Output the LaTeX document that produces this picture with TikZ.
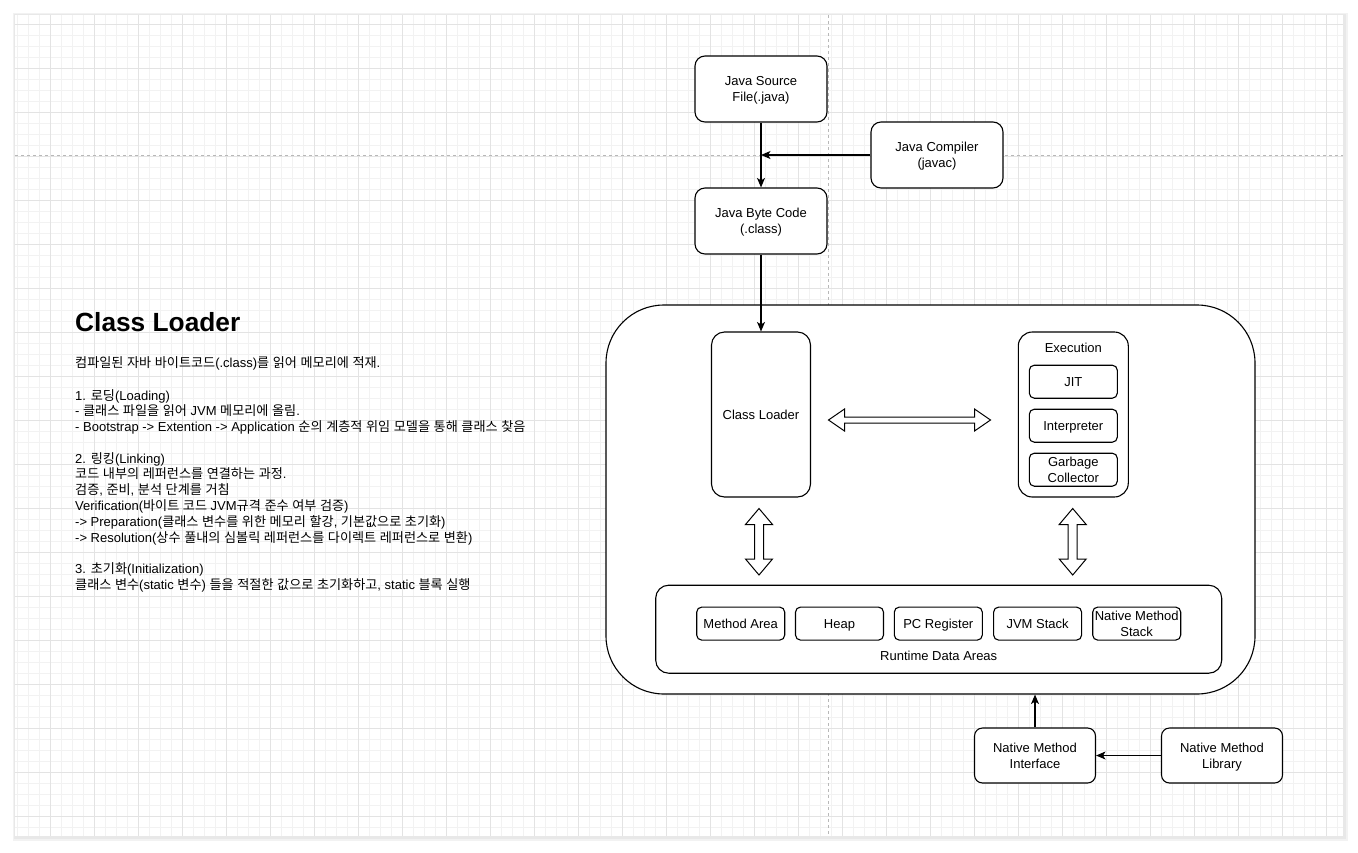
\documentclass[tikz,border=0pt]{standalone}
\usepackage{fontspec}
\setmainfont{Liberation Sans}
\newfontfamily\latfont{Liberation Sans}
\newfontfamily\krfont[Scale=1.01]{Noto Sans CJK KR}
\usetikzlibrary{arrows.meta,calc}

\newXeTeXintercharclass\krclass
\makeatletter
\count@="AC00
\loop
  \XeTeXcharclass\count@=\krclass
  \ifnum\count@<"D7A3 \advance\count@\@ne
\repeat
\makeatother
\XeTeXinterchartoks 0 \krclass = {\krfont}
\XeTeXinterchartoks 4095 \krclass = {\krfont}
\XeTeXinterchartoks \krclass 0 = {\latfont}
\XeTeXinterchartoks \krclass 4095 = {\latfont}
\XeTeXinterchartokenstate=1

\newcommand\sst{\vrule width 0pt height 12pt depth 2.9pt\relax}
\newcommand\dblH[3]{\draw[dbl] (#1,#3) -- ({#1+16},{#3-11}) -- ({#1+16},{#3-3}) -- ({#2-16},{#3-3}) -- ({#2-16},{#3-11}) -- (#2,#3) -- ({#2-16},{#3+11}) -- ({#2-16},{#3+3}) -- ({#1+16},{#3+3}) -- ({#1+16},{#3+11}) -- cycle;}
\newcommand\dblV[3]{\draw[dbl] (#1,#2) -- ({#1+13.5},{#2+16}) -- ({#1+4.5},{#2+16}) -- ({#1+4.5},{#3-16}) -- ({#1+13.5},{#3-16}) -- (#1,#3) -- ({#1-13.5},{#3-16}) -- ({#1-4.5},{#3-16}) -- ({#1-4.5},{#2+16}) -- ({#1-13.5},{#2+16}) -- cycle;}

\tikzset{
  box/.style={draw, line width=1.1pt, fill=white, align=center, inner sep=0pt,
    font=\fontsize{13}{16}\selectfont},
  lbl/.style={inner sep=0pt, font=\fontsize{13}{16}\selectfont},
  conn/.style={line width=1.1pt, -{Stealth[length=9.5pt,width=8pt,inset=2.5pt]}},
  dbl/.style={draw, line width=1pt, fill=white, line join=miter},
  body/.style={anchor=base west, inner sep=0pt, font=\fontsize{13}{15.8}\selectfont},
  minorgrid/.style={black!5, line width=0.8pt},
  majorgrid/.style={black!11, line width=0.9pt},
  pagebreak/.style={black!28, line width=0.8pt, dash pattern=on 3pt off 3pt},
}

\begin{document}
\begin{tikzpicture}[x=1pt,y=-1pt]
\useasboundingbox (0,0) rectangle (1358,852);
\fill[white] (0,0) rectangle (1358,852);
% page with shadow
\fill[black!5] (13,13) rectangle (1348,841);
\fill[black!9] (14,14) rectangle (1346,839);
\fill[white] (15,15) rectangle (1343,836);
\begin{scope}
  \clip (15,15) rectangle (1343,836);
  \foreach \i in {0,...,122} \draw[minorgrid] ({6+11*\i},15) -- ({6+11*\i},836);
  \foreach \i in {0,...,75} \draw[minorgrid] (15,{13+11*\i}) -- (1343,{13+11*\i});
  \foreach \i in {0,...,30} \draw[majorgrid] ({6+44*\i},15) -- ({6+44*\i},836);
  \foreach \i in {0,...,19} \draw[majorgrid] (15,{24+44*\i}) -- (1343,{24+44*\i});
\end{scope}
\draw[pagebreak] (828,15) -- (828,836);
\draw[pagebreak] (15,155) -- (1343,155);

% left text
\node[anchor=base west, inner sep=0pt, font=\fontsize{26.3}{31}\selectfont\bfseries] (title) at (75,331) {Class Loader};
\node[body] (t1) at (75,367) {컴파일된 자바 바이트코드(.class)를 읽어 메모리에 적재.};
\node[body] (t3) at (75,400) {1. 로딩(Loading)};
\node[body] (t4) at (75,415.8) {- 클래스 파일을 읽어 JVM 메모리에 올림.};
\node[body] (t5) at (75,431.6) {- Bootstrap -> Extention -> Application 순의 계층적 위임 모델을 통해 클래스 찾음};
\node[body] (t7) at (75,463) {2. 링킹(Linking)};
\node[body] (t8) at (75,478.8) {코드 내부의 레퍼런스를 연결하는 과정.};
\node[body] (t9) at (75,494.6) {검증, 준비, 분석 단계를 거침};
\node[body] (t10) at (75,510.5) {Verification(바이트 코드 JVM규격 준수 여부 검증)};
\node[body] (t11) at (75,526.3) {-> Preparation(클래스 변수를 위한 메모리 할강, 기본값으로 초기화)};
\node[body] (t12) at (75,542.1) {-> Resolution(상수 풀내의 심볼릭 레퍼런스를 다이렉트 레퍼런스로 변환)};
\node[body] (t14) at (75,573.8) {3. 초기화(Initialization)};
\node[body] (t15) at (75,589.6) {클래스 변수(static 변수) 들을 적절한 값으로 초기화하고, static 블록 실행};

% top boxes
\node[box, minimum width=132pt, minimum height=66pt, rounded corners=10pt] (src) at (761,89) {\sst Java Source\\\sst File(.java)};
\node[box, minimum width=132pt, minimum height=66pt, rounded corners=10pt] (comp) at (937,155) {\sst Java Compiler\\\sst (javac)};
\node[box, minimum width=132pt, minimum height=66pt, rounded corners=10pt] (bc) at (761,221) {\sst Java Byte Code\\\sst (.class)};
\coordinate (join) at (761,155);

% JVM
\node[box, minimum width=649pt, minimum height=389pt, rounded corners=58pt] (jvm) at (930.5,499.5) {};
\node[box, minimum width=99pt, minimum height=165pt, rounded corners=13pt] (cl) at (761,414.5) {\sst Class Loader};
\node[box, minimum width=110pt, minimum height=165pt, rounded corners=14pt] (ex) at (1073.3,414.5) {};
\node[lbl] (exlbl) at (1073.3,348) {\sst Execution};
\node[box, minimum width=88pt, minimum height=33pt, rounded corners=5pt] (jit) at (1073.3,381.7) {\sst JIT};
\node[box, minimum width=88pt, minimum height=33pt, rounded corners=5pt] (interp) at (1073.3,425.7) {\sst Interpreter};
\node[box, minimum width=88pt, minimum height=33pt, rounded corners=5pt] (gc) at (1073.3,469.7) {\sst Garbage\\\sst Collector};

\node[box, minimum width=566pt, minimum height=88pt, rounded corners=13pt] (rda) at (938.7,629.2) {};
\node[lbl] (rdalbl) at (938.7,656) {\sst Runtime Data Areas};
\node[box, minimum width=88pt, minimum height=33pt, rounded corners=5pt] (ma) at (740.7,623.6) {\sst Method Area};
\node[box, minimum width=88pt, minimum height=33pt, rounded corners=5pt] (heap) at (839.5,623.6) {\sst Heap};
\node[box, minimum width=88pt, minimum height=33pt, rounded corners=5pt] (pc) at (938.3,623.6) {\sst PC Register};
\node[box, minimum width=88pt, minimum height=33pt, rounded corners=5pt] (js) at (1037.6,623.6) {\sst JVM Stack};
\node[box, minimum width=88pt, minimum height=33pt, rounded corners=5pt] (nms) at (1136.7,623.6) {\sst Native Method\\\sst Stack};

% native
\node[box, minimum width=121pt, minimum height=55pt, rounded corners=8pt] (nmi) at (1035,755.5) {\sst Native Method\\\sst Interface};
\node[box, minimum width=121pt, minimum height=55pt, rounded corners=8pt] (nml) at (1222,755.5) {\sst Native Method\\\sst Library};

% connectors
\draw[conn] (src.south) -- (bc.north);
\draw[conn] (comp.west) -- (join);
\draw[conn] (bc.south) -- (cl.north);
\draw[conn] (nmi.north) -- (nmi.north |- jvm.south);
\draw[conn] (nml.west) -- (nmi.east);

\dblH{828.5}{990.5}{420}
\dblV{759}{508.5}{575}
\dblV{1072.7}{508.5}{575}
\end{tikzpicture}
\end{document}
